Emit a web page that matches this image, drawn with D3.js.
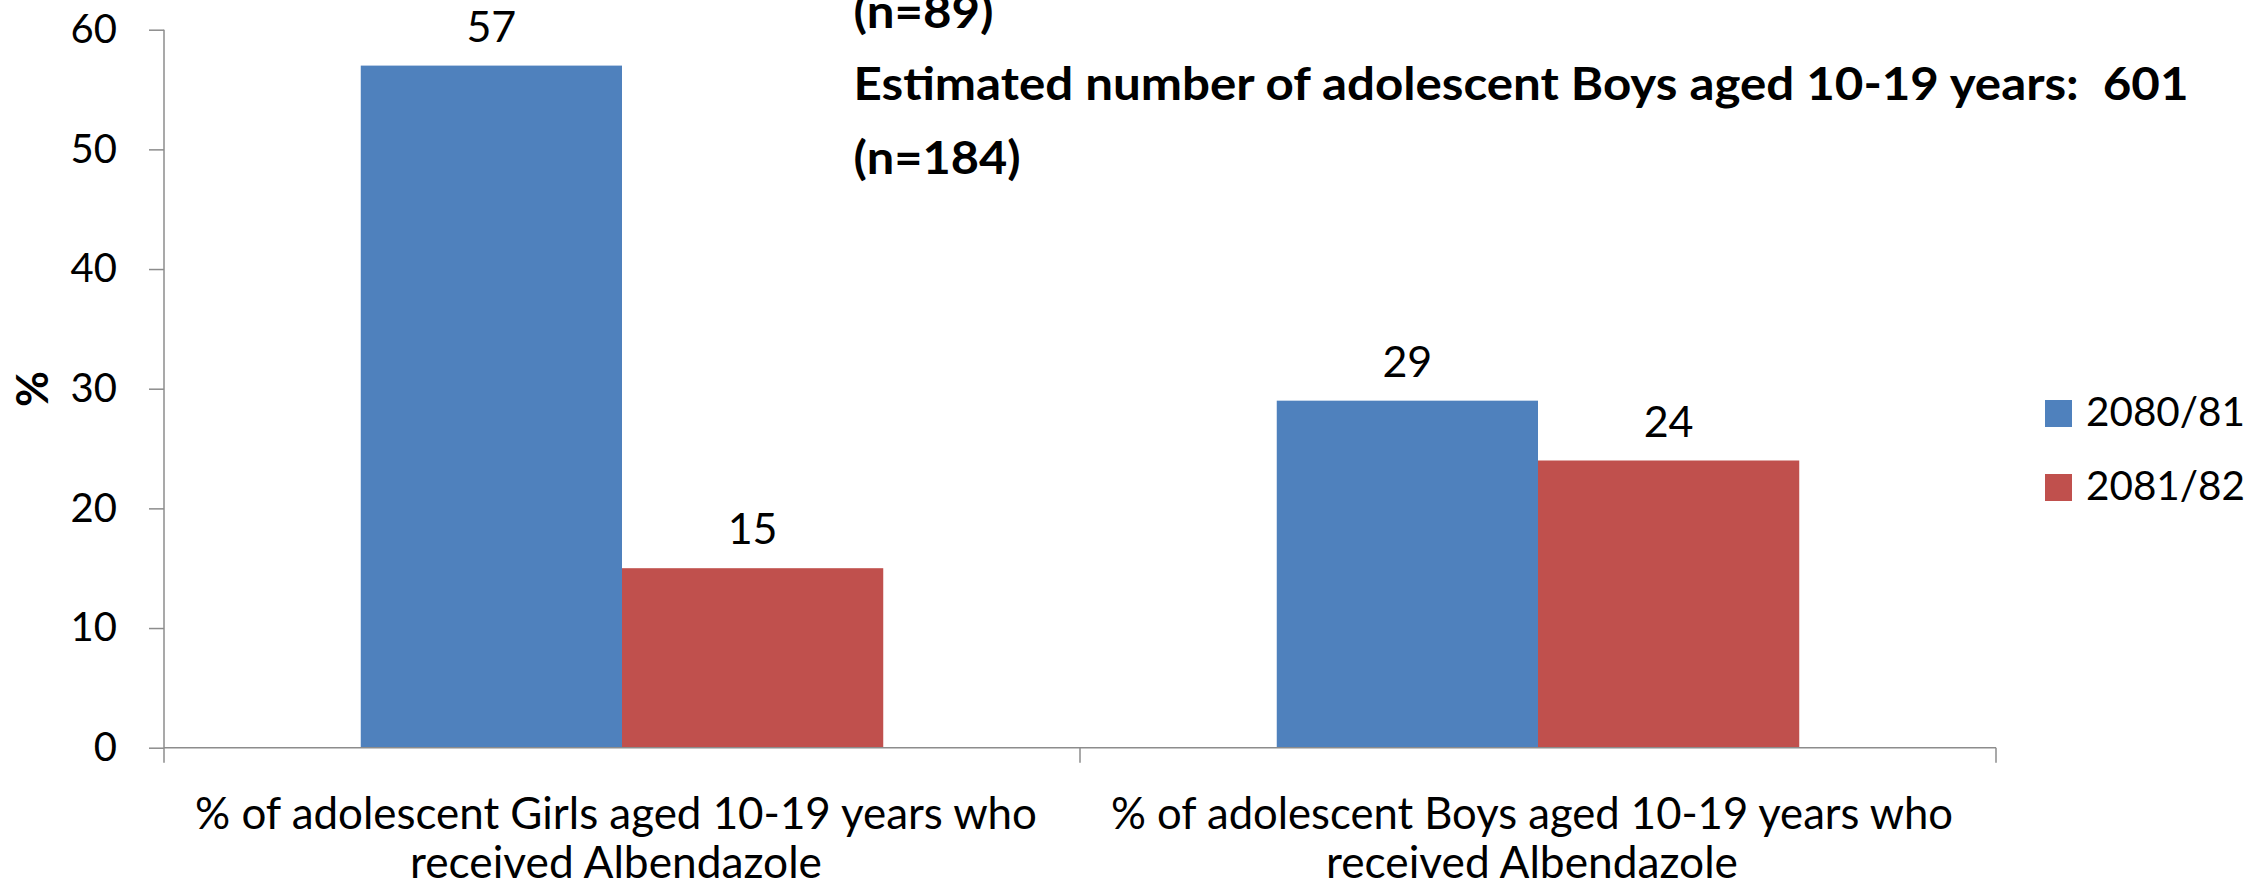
<!DOCTYPE html>
<html>
<head>
<meta charset="utf-8">
<script src="https://cdn.jsdelivr.net/npm/d3@7"></script>
<style>
  html, body { margin: 0; padding: 0; background: #fff; overflow: hidden; }
  svg { display: block; font-family: Lato, "Open Sans", sans-serif; }
  text { white-space: pre; }
</style>
</head>
<body>
<svg id="chart" width="2252" height="886"></svg>
<script>
// ---- data ----
const categories = [
  ["% of adolescent Girls aged 10-19 years who", "received Albendazole"],
  ["% of adolescent Boys aged 10-19 years who", "received Albendazole"]
];
const seriesNames = ["2080/81", "2081/82"];
const values2080 = [57, 29];
const values2081 = [15, 24];
const yTicks = [0, 10, 20, 30, 40, 50, 60];
const titleLines = ["(n=89)", "Estimated number of adolescent Boys aged 10-19 years:  601", "(n=184)"];
const yTitle = "%";

// ---- layout ----
const colors = ["#4F81BD", "#C0504D"];
const axisColor = "#8c8c8c";
const plot = { left: 164, right: 1996, top: 29.7, bottom: 747.7 };

const svg = d3.select("#chart");

const x0 = d3.scaleBand()
  .domain(d3.range(categories.length))
  .range([plot.left, plot.right])
  .paddingInner(0).paddingOuter(0);

const gapFrac = 0.2148; // gap on each side relative to category width
const x1 = d3.scaleBand()
  .domain(seriesNames)
  .range([x0.bandwidth() * gapFrac, x0.bandwidth() * (1 - gapFrac)])
  .padding(0);

const y = d3.scaleLinear().domain([0, 60]).range([plot.bottom, plot.top]);

const seriesValues = [values2080, values2081];

// bars
seriesNames.forEach((s, si) => {
  svg.append("g").selectAll("rect")
    .data(seriesValues[si])
    .join("rect")
    .attr("x", (d, i) => x0(i) + x1(s))
    .attr("y", d => y(d))
    .attr("width", x1.bandwidth())
    .attr("height", d => y(0) - y(d))
    .attr("fill", colors[si]);
  svg.append("g").selectAll("text")
    .data(seriesValues[si])
    .join("text")
    .attr("x", (d, i) => x0(i) + x1(s) + x1.bandwidth() / 2)
    .attr("y", d => y(d) - 24)
    .attr("text-anchor", "middle")
    .attr("font-size", 43)
    .attr("fill", "#000")
    .text(d => d);
});

// y axis
const yAxis = d3.axisLeft(y).tickValues(yTicks).tickSize(15).tickPadding(32).tickFormat(d3.format("d"));
const gy = svg.append("g").attr("transform", `translate(${plot.left},0)`).call(yAxis);
gy.select(".domain").remove();
gy.selectAll(".tick line").attr("stroke", axisColor).attr("stroke-width", 1.5);
gy.selectAll(".tick text").attr("font-size", 40).attr("fill", "#000").attr("font-family", "Lato, sans-serif");
svg.append("line")
  .attr("x1", plot.left).attr("x2", plot.left)
  .attr("y1", plot.top).attr("y2", plot.bottom + 15)
  .attr("stroke", axisColor).attr("stroke-width", 1.5);

// x axis
svg.append("line")
  .attr("x1", plot.left).attr("x2", plot.right)
  .attr("y1", plot.bottom).attr("y2", plot.bottom)
  .attr("stroke", axisColor).attr("stroke-width", 1.5);
const boundaries = d3.range(categories.length + 1).map(i => i < categories.length ? x0(i) : plot.right);
svg.append("g").selectAll("line")
  .data(boundaries.slice(1))
  .join("line")
  .attr("x1", d => d).attr("x2", d => d)
  .attr("y1", plot.bottom).attr("y2", plot.bottom + 15)
  .attr("stroke", axisColor).attr("stroke-width", 1.5);

// category labels
const catLineWidths = [842, 412];
const catBaselines = [829, 878];
categories.forEach((lines, i) => {
  const cx = x0(i) + x0.bandwidth() / 2 - 6;
  lines.forEach((ln, li) => {
    svg.append("text")
      .attr("x", cx)
      .attr("y", catBaselines[li])
      .attr("text-anchor", "middle")
      .attr("font-size", 44)
      .attr("textLength", catLineWidths[li])
      .attr("lengthAdjust", "spacingAndGlyphs")
      .attr("fill", "#000")
      .text(ln);
  });
});

// y title
svg.append("text")
  .attr("transform", "translate(48,389) rotate(-90)")
  .attr("text-anchor", "middle")
  .attr("font-size", 44)
  .attr("font-weight", "bold")
  .attr("fill", "#000")
  .text(yTitle);

// overflowing title lines
const titleBaselines = [28, 100, 174];
const titleWidths = [140, 1335, 167];
titleLines.forEach((t, i) => {
  svg.append("text")
    .attr("x", 853.5)
    .attr("y", titleBaselines[i])
    .attr("font-size", 46)
    .attr("font-weight", "bold")
    .attr("textLength", titleWidths[i])
    .attr("lengthAdjust", "spacingAndGlyphs")
    .attr("fill", "#000")
    .text(t);
});

// legend
const legend = svg.append("g").selectAll("g")
  .data(seriesNames)
  .join("g")
  .attr("transform", (d, i) => `translate(2045,${400 + i * 74})`);
legend.append("rect")
  .attr("width", 27).attr("height", 27)
  .attr("fill", (d, i) => colors[i]);
legend.append("text")
  .attr("x", 41).attr("y", 26)
  .attr("font-size", 41)
  .attr("textLength", 159)
  .attr("lengthAdjust", "spacingAndGlyphs")
  .attr("fill", "#000")
  .text(d => d);
</script>
</body>
</html>
